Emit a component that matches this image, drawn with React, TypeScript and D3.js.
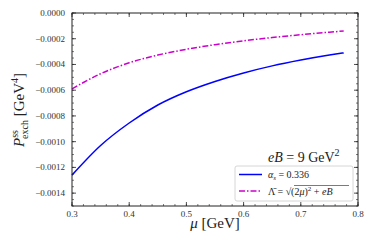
import React from "react";
import * as d3 from "d3";

const mu = [0.3, 0.35, 0.4, 0.45, 0.5, 0.55, 0.6, 0.65, 0.7, 0.75, 0.775];
const alphaSeries = [-0.00126, -0.00103, -0.000855, -0.000715, -0.000612, -0.000532, -0.000466, -0.000411, -0.000366, -0.000327, -0.00031];
const lambdaSeries = [-0.00059, -0.000472, -0.000387, -0.000327, -0.000282, -0.000246, -0.000216, -0.000191, -0.000169, -0.000149, -0.00014];
const xTicks = [0.3, 0.4, 0.5, 0.6, 0.7, 0.8];
const yTicks = [0, -0.0002, -0.0004, -0.0006, -0.0008, -0.001, -0.0012, -0.0014];

const W = 374, H = 249;
const L = 72, R = 358, T = 13, B = 206;
const FONT = "'Liberation Serif', 'DejaVu Serif', serif";

export default function App() {
  const x = d3.scaleLinear().domain([0.3, 0.8]).range([L, R]);
  const y = d3.scaleLinear().domain([-0.0015, 0]).range([B, T]);
  const line = d3.line<number>().x((_, i) => x(mu[i])).y((d) => y(d)).curve(d3.curveMonotoneX);
  const xMinor = d3.range(0.3, 0.8001, 0.02);
  const yMinor = d3.range(-0.0015, 0.000001, 0.00005);
  const fmtY = (v: number) => (v === 0 ? "0.0000" : "\u2212" + Math.abs(v).toFixed(4));

  return (
    <svg width={W} height={H} style={{ position: "absolute", left: 0, top: 0 }} fontFamily={FONT}>
      <rect x={0} y={0} width={W} height={H} fill="white" />
      <path d={line(alphaSeries) || ""} fill="none" stroke="#0000ff" strokeWidth={1.5} />
      <path d={line(lambdaSeries) || ""} fill="none" stroke="#cc00cc" strokeWidth={1.5} strokeDasharray="6,2,1.5,2" />
      {xMinor.map((v, i) => (
        <g key={"xm" + i}>
          <line x1={x(v)} x2={x(v)} y1={B} y2={B - 2} stroke="#222" strokeWidth={0.6} />
          <line x1={x(v)} x2={x(v)} y1={T} y2={T + 2} stroke="#222" strokeWidth={0.6} />
        </g>
      ))}
      {yMinor.map((v, i) => (
        <g key={"ym" + i}>
          <line x1={L} x2={L + 2} y1={y(v)} y2={y(v)} stroke="#222" strokeWidth={0.6} />
          <line x1={R} x2={R - 2} y1={y(v)} y2={y(v)} stroke="#222" strokeWidth={0.6} />
        </g>
      ))}
      {xTicks.map((v) => (
        <g key={"x" + v}>
          <line x1={x(v)} x2={x(v)} y1={B} y2={B - 4} stroke="#222" strokeWidth={0.8} />
          <line x1={x(v)} x2={x(v)} y1={T} y2={T + 4} stroke="#222" strokeWidth={0.8} />
          <text x={x(v)} y={B + 11} textAnchor="middle" fontSize={9} fill="#333">{v.toFixed(1)}</text>
        </g>
      ))}
      {yTicks.map((v) => (
        <g key={"y" + v}>
          <line x1={L} x2={L + 4} y1={y(v)} y2={y(v)} stroke="#222" strokeWidth={0.8} />
          <line x1={R} x2={R - 4} y1={y(v)} y2={y(v)} stroke="#222" strokeWidth={0.8} />
          <text x={65} y={y(v) + 3} textAnchor="end" fontSize={9} fill="#333">{fmtY(v)}</text>
        </g>
      ))}
      <rect x={L} y={T} width={R - L} height={B - T} fill="none" stroke="#222" strokeWidth={1} />
      <text x={215} y={228} textAnchor="middle" fontSize={15} fill="#222">
        <tspan fontStyle="italic">μ</tspan> [GeV]
      </text>
      <text transform="translate(24,110) rotate(-90)" textAnchor="middle" fontSize={15} fill="#222">
        <tspan fontStyle="italic">P</tspan>
        <tspan fontSize={10} dy={-6}>ss</tspan>
        <tspan fontSize={10} dx={-9} dy={10}>exch</tspan>
        <tspan dy={-4}> [GeV</tspan>
        <tspan fontSize={10} dy={-6}>4</tspan>
        <tspan dy={6}>]</tspan>
      </text>
      <text x={268} y={162} fontSize={14} fill="#222">
        <tspan fontStyle="italic">eB</tspan> = 9 GeV
        <tspan fontSize={10} dy={-6}>2</tspan>
      </text>
      <rect x={235} y={166} width={118} height={35} rx={2} fill="white" stroke="#ccc" strokeWidth={0.8} />
      <line x1={239} x2={262} y1={174.5} y2={174.5} stroke="#0000ff" strokeWidth={1.5} />
      <line x1={239} x2={262} y1={191} y2={191} stroke="#cc00cc" strokeWidth={1.5} strokeDasharray="6,2,1.5,2" />
      <text x={268} y={178} fontSize={10} fill="#222">
        <tspan fontStyle="italic">α</tspan>
        <tspan fontSize={7} dy={2} fontStyle="italic">s</tspan>
        <tspan dy={-2}> = 0.336</tspan>
      </text>
      <text x={268} y={195} fontSize={10} fill="#222">
        <tspan>Λ̄ = √(2</tspan>
        <tspan fontStyle="italic">μ</tspan>
        <tspan>)</tspan>
        <tspan fontSize={7} dy={-4}>2</tspan>
        <tspan dy={4}> + </tspan>
        <tspan fontStyle="italic">eB</tspan>
      </text>
      <line x1={294} x2={349} y1={185.5} y2={185.5} stroke="#222" strokeWidth={0.6} />
    </svg>
  );
}
